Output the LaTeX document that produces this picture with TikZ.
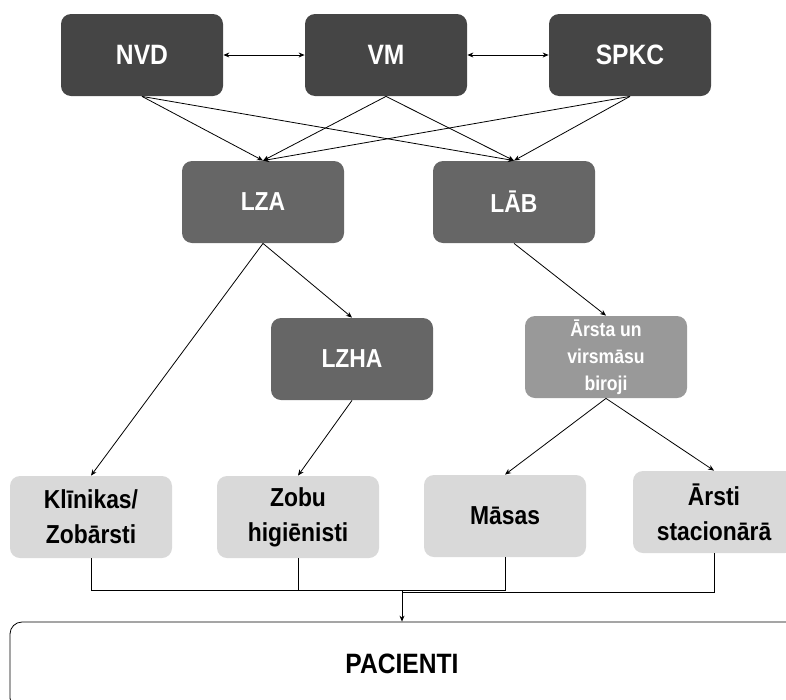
\documentclass[tikz,border=0pt]{standalone}
\usepackage{fontspec}
\setmainfont{Liberation Sans}[FakeStretch=0.88]
\usetikzlibrary{
  arrows.meta, % For arrow tips
  positioning
}

\begin{document}
\begin{tikzpicture}[
      x=1pt, y=-1pt, % pixel-like units, y downwards
      line width=0.8pt,
      >={Stealth[length=6pt,width=5pt]}, % Default arrow tip
      box/.style={rounded corners=10pt, minimum width=162pt, minimum height=82pt,
                  align=center, font=\fontsize{26}{35}\selectfont\bfseries},
      topbox/.style={box, fill=black!73, text=white, font=\fontsize{28}{34}\selectfont\bfseries},
      midbox/.style={box, fill=black!60, text=white},
      subbox/.style={box, fill=black!40, text=white, font=\fontsize{20}{27}\selectfont\bfseries},
      leafbox/.style={box, fill=black!15, text=black},
      link/.style={->, black},
    ]

    % fixed frame of the picture
    \useasboundingbox (0,0) rectangle (786,699);
    \clip (0,0) rectangle (786,699);

    % Ministrijas un dienesti
    \node[topbox] (nvd)  at (142,55) {NVD};
    \node[topbox] (vm)   at (386,55) {VM};
    \node[topbox] (spkc) at (630,55) {SPKC};

    % Asociacijas
    \node[midbox] (lza) at (263,202) {LZA};
    \node[midbox] (lab) at (514,202) {LĀB};
    \node[midbox] (lzha) at (352,359) {LZHA};
    \node[subbox] (biroji) at (606,357) {Ārsta un\\virsmāsu\\biroji};

    % Prakses
    \node[leafbox] (klin)  at (91,517)  {Klīnikas/\\Zobārsti};
    \node[leafbox] (zobu)  at (298,517) {Zobu\\higiēnisti};
    \node[leafbox] (masas) at (505,516) {Māsas};
    \node[leafbox] (arsti) at (714,512) {Ārsti\\stacionārā};

    \node[draw, rounded corners=12pt, minimum width=790pt, minimum height=88pt,
          font=\fontsize{28}{34}\selectfont\bfseries] (pac) at (405,666) {};
    \node[font=\fontsize{28}{34}\selectfont\bfseries] (pactext) at (402,664) {PACIENTI};

    % savstarpeja sadarbiba
    \draw[<->] (nvd) -- (vm);
    \draw[<->] (vm) -- (spkc);

    \foreach \src in {nvd, vm, spkc}{
      \draw[link] (\src.south) -- (lza.north);
      \draw[link] (\src.south) -- (lab.north);
    }

    \draw[link] (lza.south) -- (klin.north);
    \draw[link] (lza.south) -- (lzha.north);
    \draw[link] (lab.south) -- (biroji.north);
    \draw[link] (lzha.south) -- (zobu.north);
    \draw[link] (biroji.south) -- (masas.north);
    \draw[link] (biroji.south) -- (arsti.north);

    % uz pacientiem
    \coordinate (join) at (402,590);
    \draw (klin.south) |- (join) -| (masas.south);
    \draw (zobu.south) -- (zobu.south |- join);
    \draw (arsti.south) |- ([yshift=-2pt]join);
    \draw[link] (join) -- (join |- pac.north);

  \end{tikzpicture}
\end{document}
